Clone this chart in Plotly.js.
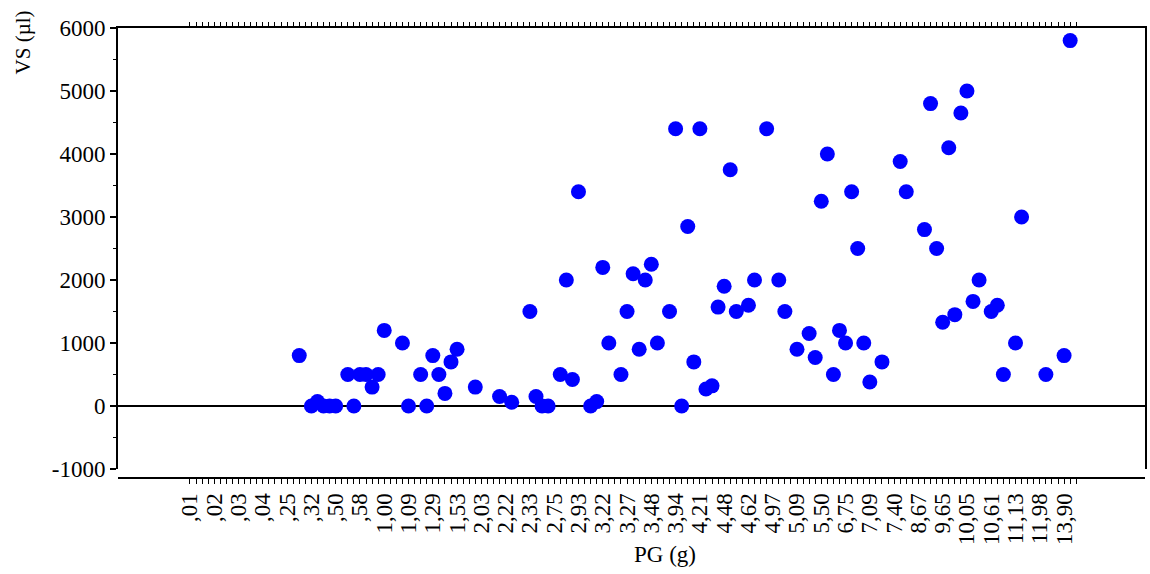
<!DOCTYPE html>
<html>
<head>
<meta charset="utf-8">
<script src="https://cdn.plot.ly/plotly-3.0.1.min.js"></script>
<style>
  html, body { margin: 0; padding: 0; background: #ffffff; }
  #chart { width: 1150px; height: 574px; }
</style>
</head>
<body>
<div id="chart"></div>
<script>
// PG (g) category labels, one label shown every 4th category
const pgLabels = [',01', ',02', ',03', ',04', ',25', ',32', ',50', ',58',
  '1,00', '1,09', '1,29', '1,53', '2,03', '2,22', '2,33', '2,75',
  '2,93', '3,22', '3,27', '3,48', '3,94', '4,21', '4,48', '4,62',
  '4,97', '5,09', '5,50', '6,75', '7,09', '7,40', '8,67', '9,65',
  '10,05', '10,61', '11,13', '11,98', '13,90'];
const labelEvery = 4;
const categoryCount = 147;

// VS (µl) axis ticks
const vsTicks = [-1000, 0, 1000, 2000, 3000, 4000, 5000, 6000];
const vsTickText = ['-1000', '0', '1000', '2000', '3000', '4000', '5000', '6000'];

// Rank of each observation's PG category along the axis
const pgCategory = [18, 20, 21, 22, 23, 24, 26, 27, 28, 29, 30, 31, 32, 35, 36, 38, 39, 40, 41, 42,
  43, 44, 47, 51, 53, 56, 57, 58, 59, 61, 62, 63, 64, 66, 67, 68, 69, 71, 72, 73,
  74, 75, 76, 77, 79, 80, 81, 82, 83, 84, 85, 86, 87, 88, 89, 90, 92, 93, 95, 97,
  98, 100, 102, 103, 104, 105, 106, 107, 108, 109, 110, 111, 112, 114, 117, 118, 121, 122, 123, 124,
  125, 126, 127, 128, 129, 130, 132, 133, 134, 136, 137, 141, 144, 145];

// VS (µl) for each observation
const vsValues = [800, 0, 70, 0, 0, 0, 500, 0, 500, 500, 300, 500, 1200, 1000, 0, 500, 0, 800, 500, 200,
  700, 900, 300, 150, 60, 1500, 150, 0, 0, 500, 2000, 420, 3400, 0, 70, 2200, 1000, 500, 1500, 2100,
  900, 2000, 2250, 1000, 1500, 4400, 0, 2850, 700, 4400, 270, 320, 1570, 1900, 3750, 1500, 1600, 2000, 4400, 2000,
  1500, 900, 1150, 770, 3250, 4000, 500, 1200, 1000, 3400, 2500, 1000, 380, 700, 3880, 3400, 2800, 4800, 2500, 1330,
  4100, 1450, 4650, 5000, 1660, 2000, 1500, 1600, 500, 1000, 3000, 500, 800, 5800];

const allTicks = [];
const allText = [];
for (let i = 0; i < categoryCount; i++) {
  allTicks.push(i);
  const k = i / labelEvery;
  allText.push(Number.isInteger(k) && k < pgLabels.length ? pgLabels[k] : '');
}

const serif = 'Liberation Serif, Times New Roman, serif';
const fontSize = 23;
const xRange = [-11.86, 157.33];

const trace = {
  type: 'scatter',
  mode: 'markers',
  x: pgCategory,
  y: vsValues,
  marker: { color: '#0000ff', size: 15, line: { width: 0 } },
  hoverinfo: 'x+y',
  showlegend: false
};

// Invisible trace on the top axis so its ticks are drawn
const topTrace = {
  type: 'scatter', mode: 'markers', x: [0], y: [0], xaxis: 'x2', yaxis: 'y',
  marker: { opacity: 0 }, hoverinfo: 'skip', showlegend: false
};

const layout = {
  width: 1150,
  height: 574,
  margin: { l: 118, r: 5, t: 28, b: 96, pad: 0 },
  paper_bgcolor: '#ffffff',
  plot_bgcolor: '#ffffff',
  font: { family: serif, color: '#000000', size: fontSize },
  xaxis: {
    range: xRange,
    anchor: 'free',
    position: 0,
    tickmode: 'array',
    tickvals: allTicks,
    ticktext: allText,
    tickangle: -90,
    ticks: 'outside',
    ticklen: 5,
    tickwidth: 1,
    tickcolor: '#000000',
    tickfont: { family: serif, size: fontSize, color: '#000000' },
    showline: true,
    linecolor: '#000000',
    linewidth: 2,
    showgrid: false,
    zeroline: false
  },
  xaxis2: {
    range: xRange,
    overlaying: 'x',
    side: 'top',
    anchor: 'y',
    tickmode: 'array',
    tickvals: allTicks,
    showticklabels: false,
    ticks: 'outside',
    ticklen: 4,
    tickwidth: 1,
    tickcolor: '#000000',
    showline: true,
    linecolor: '#000000',
    linewidth: 2,
    showgrid: false,
    zeroline: false
  },
  yaxis: {
    domain: [0.02, 1],
    range: [-1000, 6000],
    anchor: 'x',
    tickmode: 'array',
    tickvals: vsTicks,
    ticktext: vsTickText,
    ticks: 'outside',
    ticklen: 6,
    tickwidth: 1.5,
    tickcolor: '#000000',
    minor: { tickmode: 'linear', tick0: 0, dtick: 500, ticks: 'outside', ticklen: 3, tickwidth: 1.5, tickcolor: '#000000' },
    tickfont: { family: serif, size: fontSize, color: '#000000' },
    showline: true,
    mirror: true,
    linecolor: '#000000',
    linewidth: 2,
    showgrid: false,
    zeroline: true,
    zerolinecolor: '#000000',
    zerolinewidth: 2
  },
  annotations: [
    {
      text: 'VS (µl)', xref: 'paper', yref: 'paper', showarrow: false,
      x: -0.093, y: 0.969, xanchor: 'center', yanchor: 'middle', textangle: -90,
      font: { family: serif, size: 21, color: '#000000' }
    },
    {
      text: 'PG (g)', xref: 'paper', yref: 'paper', showarrow: false,
      x: 0.533, y: -0.17, xanchor: 'center', yanchor: 'middle',
      font: { family: serif, size: fontSize, color: '#000000' }
    }
  ]
};

Plotly.newPlot('chart', [trace, topTrace], layout, { displayModeBar: false, staticPlot: true });
</script>
</body>
</html>
